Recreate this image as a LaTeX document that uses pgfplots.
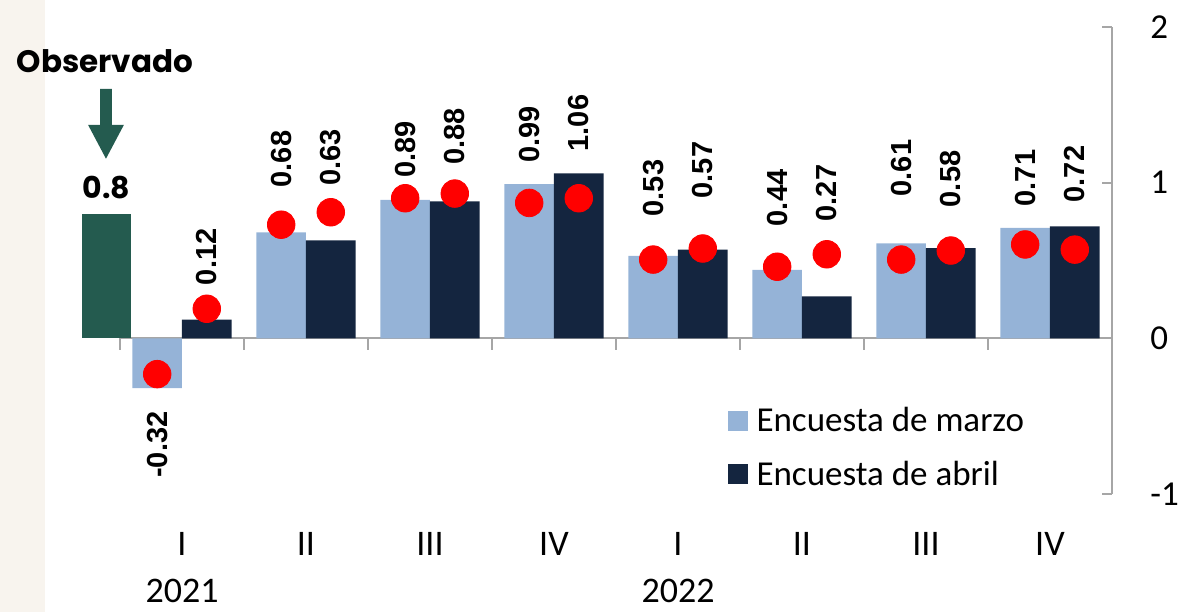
\documentclass[border=0pt]{standalone}
\usepackage{pgfplots}
\pgfplotsset{compat=1.18}
\usepackage{fontspec}
\setmainfont{Carlito}
\newfontfamily\labfont{Liberation Sans}
\newfontfamily\popfont{Poppins}
\definecolor{marzo}{HTML}{95B3D7}
\definecolor{abril}{HTML}{14253F}
\definecolor{obs}{HTML}{245B4F}
\definecolor{axgray}{HTML}{A6A6A6}
\definecolor{beige}{HTML}{F8F4EE}
\begin{document}
\begin{tikzpicture}
\fill[beige] (-60pt,-59pt) rectangle (-37.5pt,247pt);
\begin{axis}[
  scale only axis, width=496pt, height=233.5pt,
  at={(0pt,0pt)}, anchor=south west,
  xmin=-0.5, xmax=7.5, ymin=-1, ymax=2,
  clip=false,
  axis y line*=right, axis x line*=bottom,
  x axis line style={draw=none},
  y axis line style={draw=axgray, line width=1pt},
  ytick={-1,0,1,2},
  yticklabels={{\phantom{0}},{\phantom{0}},{\phantom{0}},{\phantom{0}}},
  ytick style={draw=axgray, line width=1pt},
  tick align=inside, major tick length=5pt,
  xtick={0,1,2,3,4,5,6,7},
  xticklabels={{I\\2021},II,III,IV,{I\\2022},II,III,IV},
  xtick style={draw=none},
  xticklabel style={font=\fontsize{18}{23.5}\selectfont, align=center, inner sep=0pt, anchor=north, yshift=-19pt},
  legend style={at={(0.612,0.196)}, anchor=north west, draw=none, fill=none, inner sep=0pt,
    font=\fontsize{17.5}{17.5}\selectfont, row sep=9.3pt,
    /tikz/every odd column/.append style={column sep=2.5pt}},
  legend cell align=left,
]
\draw[axgray, line width=1pt] (axis cs:-0.5,0) -- (axis cs:7.5,0);
\pgfplotsinvokeforeach{-0.5,0.5,1.5,2.5,3.5,4.5,5.5,6.5}{\draw[axgray, line width=1pt] (axis cs:#1,0) -- ++(0pt,-6pt);}

\addplot[ybar, bar width=0.4, bar shift=-0.2, fill=marzo, draw=none,
  legend image code/.code={\fill[marzo] (0pt,-5pt) rectangle (10pt,5pt);}]
  coordinates {(0,-0.32) (1,0.68) (2,0.89) (3,0.99) (4,0.53) (5,0.44) (6,0.61) (7,0.71)};
\addlegendentry{Encuesta de marzo}
\addplot[ybar, bar width=0.4, bar shift=0.2, fill=abril, draw=none,
  legend image code/.code={\fill[abril] (0pt,-5pt) rectangle (10pt,5pt);}]
  coordinates {(0,0.12) (1,0.63) (2,0.88) (3,1.06) (4,0.57) (5,0.27) (6,0.58) (7,0.72)};
\addlegendentry{Encuesta de abril}

% observed bar
\addplot[ybar, bar width=0.4, bar shift=0, fill=obs, draw=none, forget plot,
  nodes near coords, point meta=explicit symbolic,
  every node near coord/.append style={font=\popfont\bfseries\fontsize{15}{15}\selectfont, anchor=south, inner sep=0pt, yshift=7pt, text=black}]
  coordinates {(-0.61,0.8) [0.8]};

% red dots
\addplot[only marks, mark=*, mark size=6.9pt, color=red, forget plot]
  coordinates {(-0.2,-0.23) (0.8,0.73) (1.8,0.90) (2.8,0.87) (3.8,0.506) (4.8,0.46) (5.8,0.506) (6.8,0.603)};
\addplot[only marks, mark=*, mark size=6.9pt, color=red, forget plot]
  coordinates {(0.2,0.19) (1.2,0.81) (2.2,0.93) (3.2,0.90) (4.2,0.577) (5.2,0.54) (6.2,0.564) (7.2,0.57)};

% data labels
\addplot[only marks, mark=none, forget plot, nodes near coords, point meta=explicit symbolic,
  every node near coord/.append style={rotate=90, anchor=west, inner sep=0pt, text=black,
    font=\labfont\bfseries\fontsize{14.5}{14.5}\selectfont}]
  coordinates {(0.8,0.968)[0.68] (1.8,1.03)[0.89] (2.8,1.128)[0.99] (3.8,0.782)[0.53]
               (4.8,0.718)[0.44] (5.8,0.91)[0.61] (6.8,0.846)[0.71]
               (0.2,0.34)[0.12] (1.2,0.98)[0.63] (2.2,1.115)[0.88] (3.2,1.199)[1.06]
               (4.2,0.897)[0.57] (5.2,0.75)[0.27] (6.2,0.84)[0.58] (7.2,0.872)[0.72]};
\addplot[only marks, mark=none, forget plot, nodes near coords, point meta=explicit symbolic,
  every node near coord/.append style={rotate=90, anchor=east, inner sep=0pt, text=black,
    font=\labfont\bfseries\fontsize{14.5}{14.5}\selectfont}]
  coordinates {(-0.2,-0.468)[-0.32]};

% annotation
\node[font=\popfont\bfseries\fontsize{15.5}{15.5}\selectfont, text=black] at (axis cs:-0.621,1.782) {Observado};
\fill[obs] (axis cs:-0.661,1.603) -- (axis cs:-0.565,1.603) -- (axis cs:-0.565,1.372) -- (axis cs:-0.468,1.372)
  -- (axis cs:-0.613,1.154) -- (axis cs:-0.758,1.372) -- (axis cs:-0.661,1.372) -- cycle;
\end{axis}
% y tick labels (right axis)
\foreach \v/\yy in {-1/0, 0/77.833, 1/155.667, 2/233.5}
  \node[anchor=west, inner sep=0pt, font=\fontsize{17.5}{17.5}\selectfont] at (515pt,\yy pt) {\v};
\pgfresetboundingbox
\path[use as bounding box] (-60pt,-59pt) rectangle (530pt,247pt);
\end{tikzpicture}
\end{document}
